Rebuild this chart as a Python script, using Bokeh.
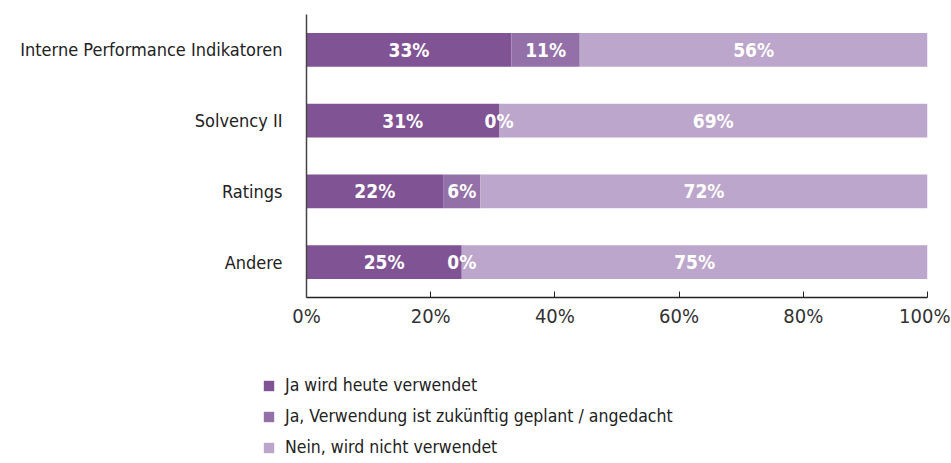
from bokeh.plotting import figure
from bokeh.layouts import column
from bokeh.models import ColumnDataSource, Legend, LegendItem, FactorRange, FixedTicker, CustomJSTickFormatter
from bokeh.core.properties import value
from bokeh.embed import file_html
from bokeh.resources import INLINE

categories = ["Interne Performance Indikatoren", "Solvency II", "Ratings", "Andere"]
ja_heute = [33, 31, 22, 25]
ja_geplant = [11, 0, 6, 0]
nein = [56, 69, 72, 75]
series_names = ["Ja wird heute verwendet", "Ja, Verwendung ist zukünftig geplant / angedacht", "Nein, wird nicht verwendet"]
colors = ["#805394", "#9470A8", "#BCA6CB"]
x_ticks = [0, 20, 40, 60, 80, 100]

FONT = "'DejaVu Sans Condensed', 'DejaVu Sans', sans-serif"

cats_rev = categories[::-1]
p = figure(width=950, height=340, y_range=FactorRange(*cats_rev), x_range=(0, 100),
           output_backend="svg", toolbar_location=None,
           min_border_top=14, min_border_right=23, min_border_left=306, min_border_bottom=43)
p.frame_align = False

src = ColumnDataSource(dict(cat=categories, a=ja_heute, b=ja_geplant, c=nein))
series = ["a", "b", "c"]
p.hbar_stack(series, y="cat", height=0.48, color=colors, source=src, line_color=None)

# segment labels
starts = [0, 0, 0, 0]
for key, vals in zip(series, [ja_heute, ja_geplant, nein]):
    mids = [s + v / 2 for s, v in zip(starts, vals)]
    texts = [f"{v}%" for v in vals]
    lsrc = ColumnDataSource(dict(x=mids, y=categories, t=texts))
    p.text(x="x", y="y", text="t", source=lsrc, text_color="white", text_font=value(FONT),
           text_font_style="bold", text_font_size="19px", text_align="center", text_baseline="middle")
    starts = [s + v for s, v in zip(starts, vals)]

p.xaxis.ticker = FixedTicker(ticks=x_ticks)
p.xaxis.formatter = CustomJSTickFormatter(code="return tick + '%';")
p.xaxis.major_tick_in = 6
p.xaxis.major_tick_out = 0
p.xaxis.minor_tick_line_color = None
p.xaxis.axis_line_color = "#222222"
p.xaxis.axis_line_width = 1.5
p.xaxis.major_tick_line_color = "#222222"
p.xaxis.major_label_text_font = FONT
p.xaxis.major_label_text_font_size = "20px"
p.xaxis.major_label_text_color = "#333333"
p.xaxis.major_label_standoff = 6

p.yaxis.major_tick_line_color = None
p.yaxis.minor_tick_line_color = None
p.yaxis.axis_line_color = "#444444"
p.yaxis.axis_line_width = 1.5
p.yaxis.major_label_text_font = FONT
p.yaxis.major_label_text_font_size = "18px"
p.yaxis.major_label_text_color = "#222222"
p.yaxis.major_label_standoff = 18

p.xgrid.grid_line_color = None
p.ygrid.grid_line_color = None
p.outline_line_color = None
p.y_range.range_padding = 0

# legend figure (same stacked series with zero height, kept out of view; only the legend shows)
p2 = figure(width=950, height=123, x_range=(200, 300), y_range=FactorRange(*cats_rev),
            output_backend="svg", toolbar_location=None,
            x_axis_location=None, y_axis_location=None,
            min_border=0)
p2.frame_align = False
p2.grid.visible = False
p2.outline_line_color = None
leg_r = p2.hbar_stack(series, y="cat", height=0, color=colors, source=src, line_color=None)
legend = Legend(items=[LegendItem(label=n, renderers=[r]) for n, r in zip(series_names, leg_r)],
                location=(262, 6), orientation="vertical", border_line_color=None,
                background_fill_alpha=0, glyph_width=13, glyph_height=13, label_standoff=10,
                label_text_font=FONT, label_text_font_size="17.5px", label_text_color="#222222",
                label_height=20, spacing=11, padding=0, margin=0)
p2.add_layout(legend, "center")

layout = column(p, p2, spacing=0)
open("out.html", "w").write(file_html(layout, INLINE))
